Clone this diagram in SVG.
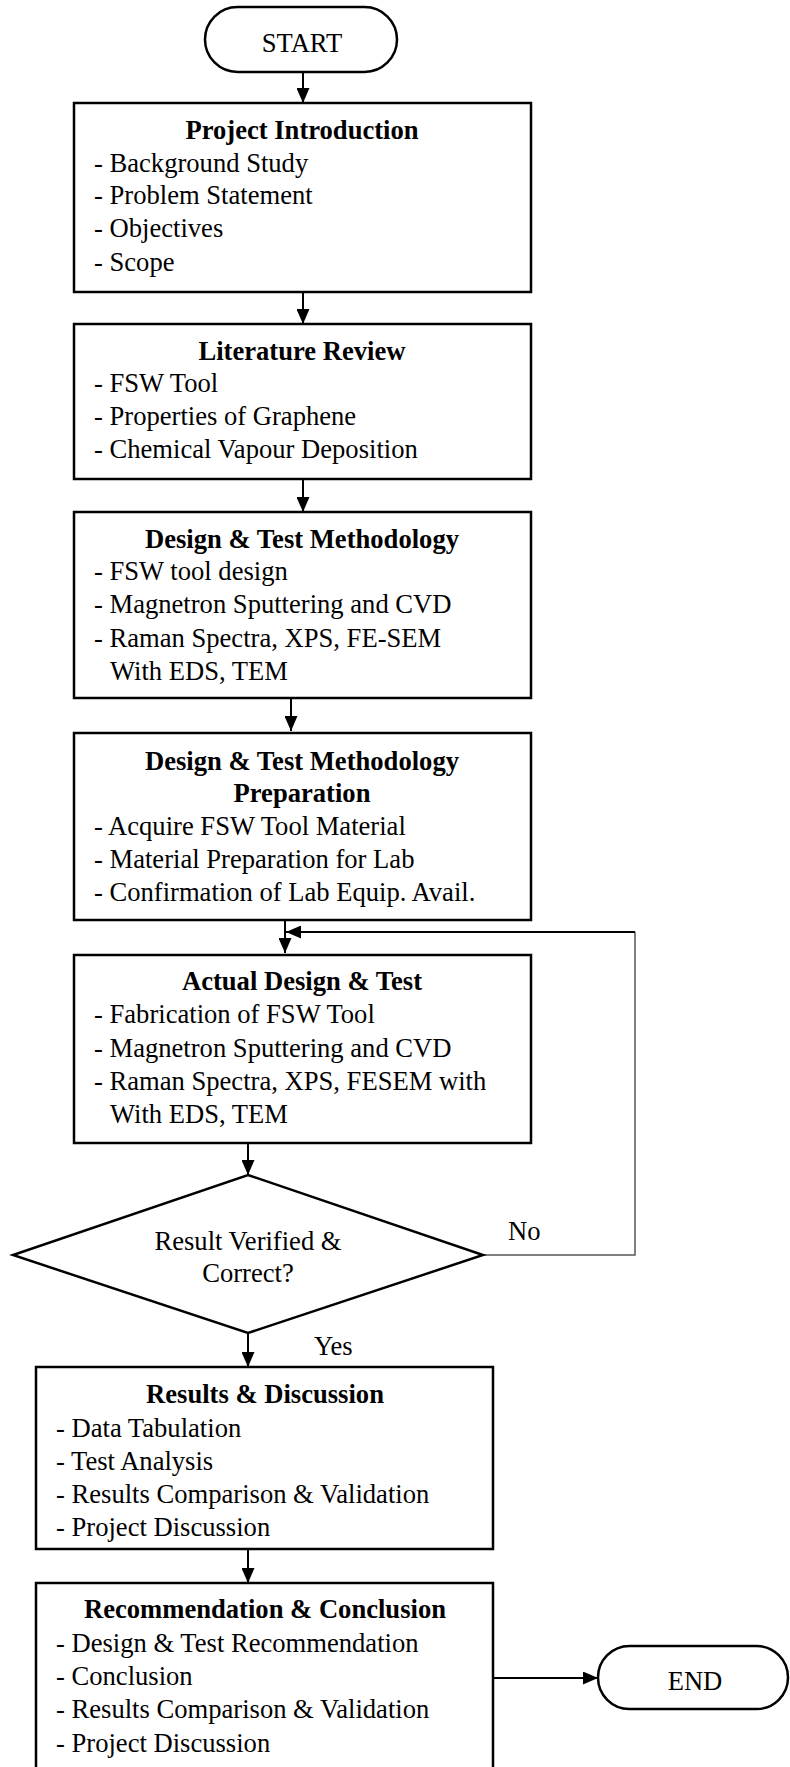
<svg xmlns="http://www.w3.org/2000/svg" width="790" height="1767" viewBox="0 0 790 1767">
<style>
text{font-family:"Liberation Serif","Times New Roman",serif;font-size:26.6px;fill:#000}
.t{font-weight:bold;text-anchor:middle}
.c{text-anchor:middle}
.box{fill:#fff;stroke:#000;stroke-width:2.5}
.ln{fill:none;stroke:#000;stroke-width:2}
.thin{fill:none;stroke:#555;stroke-width:1.5}
</style>
<defs>
<marker id="ah" markerUnits="userSpaceOnUse" markerWidth="15" markerHeight="13" refX="15" refY="6.5" orient="auto">
<path d="M0,0 L15,6.5 L0,13 z" fill="#000"/>
</marker>
</defs>
<rect width="790" height="1767" fill="#fff"/>
<g id="connectors">
<line class="ln" x1="303" y1="72" x2="303" y2="103" marker-end="url(#ah)"/>
<line class="ln" x1="303" y1="292" x2="303" y2="324" marker-end="url(#ah)"/>
<line class="ln" x1="303" y1="479" x2="303" y2="512" marker-end="url(#ah)"/>
<line class="ln" x1="291" y1="698" x2="291" y2="731" marker-end="url(#ah)"/>
<line class="ln" x1="285" y1="920" x2="285" y2="953" marker-end="url(#ah)"/>
<line class="ln" x1="248" y1="1143" x2="248" y2="1175" marker-end="url(#ah)"/>
<line class="ln" x1="248" y1="1333" x2="248" y2="1367" marker-end="url(#ah)"/>
<line class="ln" x1="248" y1="1549" x2="248" y2="1583" marker-end="url(#ah)"/>
<line class="ln" x1="493" y1="1678" x2="598" y2="1678" marker-end="url(#ah)"/>
<polyline class="thin" points="483,1255 635,1255 635,932"/>
<line class="ln" x1="635" y1="932" x2="286" y2="932" marker-end="url(#ah)"/>
<text x="508" y="1240">No</text>
<text x="314" y="1355">Yes</text>
</g>
<g id="start">
<rect class="box" x="205" y="7" width="192" height="65" rx="32.5"/>
<text class="c" x="302" y="52">START</text>
</g>
<g id="project-introduction">
<rect class="box" x="74" y="103" width="457" height="189"/>
<text class="t" x="302" y="139">Project Introduction</text>
<text x="94" y="172">- Background Study</text>
<text x="94" y="204">- Problem Statement</text>
<text x="94" y="237">- Objectives</text>
<text x="94" y="271">- Scope</text>
</g>
<g id="literature-review">
<rect class="box" x="74" y="324" width="457" height="155"/>
<text class="t" x="302" y="360">Literature Review</text>
<text x="94" y="392">- FSW Tool</text>
<text x="94" y="425">- Properties of Graphene</text>
<text x="94" y="458">- Chemical Vapour Deposition</text>
</g>
<g id="design-test-methodology">
<rect class="box" x="74" y="512" width="457" height="186"/>
<text class="t" x="302" y="548">Design &amp; Test Methodology</text>
<text x="94" y="580">- FSW tool design</text>
<text x="94" y="613">- Magnetron Sputtering and CVD</text>
<text x="94" y="647">- Raman Spectra, XPS, FE-SEM</text>
<text x="110" y="680">With EDS, TEM</text>
</g>
<g id="methodology-preparation">
<rect class="box" x="74" y="733" width="457" height="187"/>
<text class="t" x="302" y="770">Design &amp; Test Methodology</text>
<text class="t" x="302" y="802">Preparation</text>
<text x="94" y="835">- Acquire FSW Tool Material</text>
<text x="94" y="868">- Material Preparation for Lab</text>
<text x="94" y="901">- Confirmation of Lab Equip. Avail.</text>
</g>
<g id="actual-design-test">
<rect class="box" x="74" y="955" width="457" height="188"/>
<text class="t" x="302" y="990">Actual Design &amp; Test</text>
<text x="94" y="1023">- Fabrication of FSW Tool</text>
<text x="94" y="1057">- Magnetron Sputtering and CVD</text>
<text x="94" y="1090">- Raman Spectra, XPS, FESEM with</text>
<text x="110" y="1123">With EDS, TEM</text>
</g>
<g id="decision">
<polygon class="box" points="248,1175 483,1255 248,1333 13,1255"/>
<text class="c" x="248" y="1250">Result Verified &amp;</text>
<text class="c" x="248" y="1282">Correct?</text>
</g>
<g id="results-discussion">
<rect class="box" x="36" y="1367" width="457" height="182"/>
<text class="t" x="265" y="1403">Results &amp; Discussion</text>
<text x="56" y="1437">- Data Tabulation</text>
<text x="56" y="1470">- Test Analysis</text>
<text x="56" y="1503">- Results Comparison &amp; Validation</text>
<text x="56" y="1536">- Project Discussion</text>
</g>
<g id="recommendation-conclusion">
<rect class="box" x="36" y="1583" width="457" height="200"/>
<text class="t" x="265" y="1618">Recommendation &amp; Conclusion</text>
<text x="56" y="1652">- Design &amp; Test Recommendation</text>
<text x="56" y="1685">- Conclusion</text>
<text x="56" y="1718">- Results Comparison &amp; Validation</text>
<text x="56" y="1752">- Project Discussion</text>
</g>
<g id="end">
<rect class="box" x="598" y="1646" width="190" height="63" rx="31.5"/>
<text class="c" x="695" y="1690">END</text>
</g>
</svg>
